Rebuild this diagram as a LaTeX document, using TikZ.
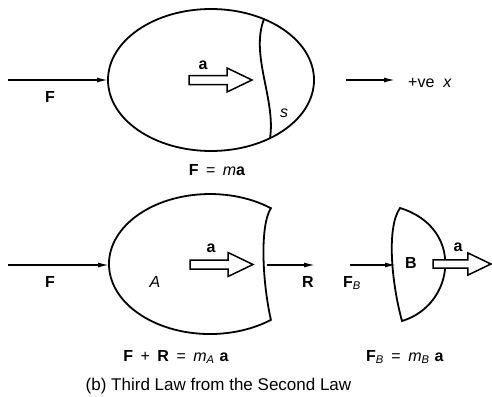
\documentclass[tikz,border=0pt]{standalone}
\usepackage{fontspec}
\setmainfont{Liberation Sans}
\usetikzlibrary{arrows.meta}
\newcommand\eqgap{\hspace{7.5pt}}
\begin{document}
\begin{tikzpicture}[x=1pt,y=-1pt,
  outline/.style={line width=1.8pt},
  force/.style={line width=1.4pt,-{Latex[length=11pt,width=5pt]}},
  lbl/.style={font=\fontsize{16}{19}\selectfont\bfseries, inner sep=0pt},
  itl/.style={font=\fontsize{16}{19}\selectfont\itshape, inner sep=0pt},
  txt/.style={font=\fontsize{16}{19}\selectfont, inner sep=0pt},
  captiontext/.style={font=\fontsize{17}{20}\selectfont, inner sep=0pt},
  blockarrow/.pic={\draw[line width=1.5pt, fill=white, line join=miter]
     (0,-4.5) -- (38,-4.5) -- (38,-12) -- (63,0) -- (38,12) -- (38,4.5) -- (0,4.5) -- cycle;}
]
\useasboundingbox (0,0) rectangle (492,396);

% ---------- top: whole body ----------
\draw[outline] (211,80) ellipse [x radius=103pt, y radius=71pt];
\draw[outline] (264,19.1) .. controls (250,55) and (276,100) .. (270,138.2);
\pic at (189,80) {blockarrow};

\coordinate (F1s) at (8,80);
\coordinate (elL) at (108,80);
\draw[force] (F1s) -- (elL);
\coordinate (xs) at (346,80);
\coordinate (xe) at (395,80);
\draw[force] (xs) -- (xe);

\node[lbl] (Ftop) at (50,97) {F};
\node[lbl] (atop) at (203,65) {a};
\node[itl] (s) at (284,113) {s};
\node[txt, anchor=west] (xlab) at (408,83) {+ve\hspace{9pt}\textit{x}};
\node[txt] (eq1) at (217,170) {\textbf{F}\eqgap=\eqgap\textit{m}\textbf{a}};

% ---------- bottom: parts A and B ----------
\draw[outline] (270.9,208.2) arc[start angle=52.9, end angle=307.1, x radius=101pt, y radius=70pt]
   .. controls (262,280) and (260,225) .. cycle;
\pic at (190,264.5) {blockarrow};

\draw[outline] (400,208) .. controls (465,228) and (455,305) .. (402,321)
   .. controls (392,285) and (386,228) .. cycle;
\pic[scale=0.92] at (433,264) {blockarrow};

\coordinate (F2s) at (8,265);
\coordinate (AL) at (109,265);
\draw[force] (F2s) -- (AL);
\coordinate (AR) at (267,265);
\coordinate (Re) at (315,265);
\draw[force] (AR) -- (Re);
\coordinate (FBs) at (350,265);
\coordinate (BL) at (396,265);
\draw[force] (FBs) -- (BL);

\node[lbl] (Fbot) at (50,282) {F};
\node[itl] (Alab) at (155,282) {A};
\node[lbl] (abot) at (211,248) {a};
\node[lbl] (Rlab) at (308,282) {R};
\node[lbl] (FBlab) at (352,283) {F\textsubscript{\mdseries\itshape B}};
\node[lbl] (Blab) at (411,263) {B};
\node[lbl] (aB) at (458,247) {a};

\node[txt] (eqA) at (176,357) {\textbf{F}\eqgap+\eqgap\textbf{R}\eqgap=\eqgap\textit{m}\textsubscript{\itshape A}\hspace{5pt}\textbf{a}};
\node[txt, anchor=west] (eqB) at (366,357) {\textbf{F}\textsubscript{\itshape B}\eqgap=\eqgap\textit{m}\textsubscript{\itshape B}\hspace{5pt}\textbf{a}};

\node[captiontext] (caption) at (218.5,386) {(b) Third Law from the Second Law};
\end{tikzpicture}
\end{document}
